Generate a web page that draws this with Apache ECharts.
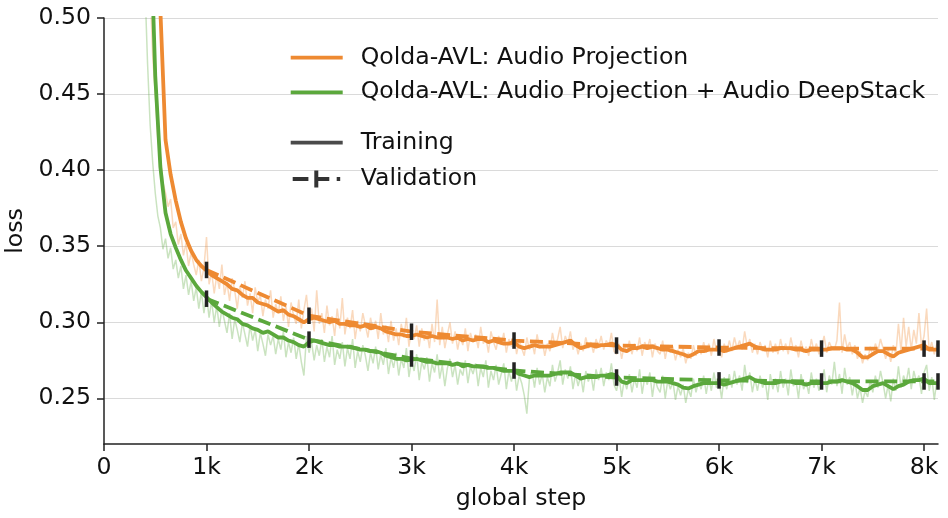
<!DOCTYPE html>
<html>
<head>
<meta charset="utf-8">
<script src="https://cdn.jsdelivr.net/npm/echarts@6/dist/echarts.min.js"></script>
<style>
  html, body { margin: 0; padding: 0; background: #fff; }
  #chart { width: 948px; height: 518px; }
</style>
</head>
<body>
<div id="chart"></div>
<script>
// run names
var nameProj = 'Qolda-AVL: Audio Projection';
var nameDeep = 'Qolda-AVL: Audio Projection + Audio DeepStack';

// x ticks / y ticks
var xTicks = [0, 1000, 2000, 3000, 4000, 5000, 6000, 7000, 8000];
var yTicks = [0.25, 0.30, 0.35, 0.40, 0.45, 0.50];

// raw training loss, logged every 25 steps from 375 to 8125
var rawSteps = [];
for (var s = 375; s <= 8125; s += 25) rawSteps.push(s);

var rawProj = [
  0.78, 0.64, 0.57, 0.52, 0.475, 0.45, 0.42, 0.41, 0.392, 0.385,
  0.376, 0.381, 0.362, 0.366, 0.351, 0.358, 0.344, 0.352, 0.337, 0.346,
  0.338, 0.331, 0.341, 0.327, 0.336, 0.356, 0.325, 0.333, 0.319, 0.331,
  0.322, 0.338, 0.318, 0.326, 0.314, 0.329, 0.321, 0.309, 0.324, 0.316,
  0.327, 0.311, 0.319, 0.306, 0.323, 0.313, 0.318, 0.304, 0.315, 0.309,
  0.321, 0.303, 0.312, 0.306, 0.317, 0.301, 0.311, 0.297, 0.313, 0.304,
  0.299, 0.315, 0.296, 0.308, 0.318, 0.301, 0.309, 0.294, 0.321, 0.299,
  0.306, 0.293, 0.311, 0.298, 0.304, 0.291, 0.309, 0.296, 0.316, 0.292,
  0.303, 0.296, 0.308, 0.289, 0.301, 0.294, 0.306, 0.298, 0.290, 0.303,
  0.295, 0.301, 0.289, 0.306, 0.292, 0.298, 0.287, 0.301, 0.288, 0.296,
  0.285, 0.299, 0.290, 0.303, 0.284, 0.295, 0.289, 0.298, 0.284, 0.296,
  0.288, 0.294, 0.283, 0.299, 0.287, 0.315, 0.285, 0.297, 0.283, 0.292,
  0.300, 0.286, 0.294, 0.282, 0.291, 0.285, 0.296, 0.281, 0.293, 0.287,
  0.292, 0.283, 0.297, 0.286, 0.290, 0.280, 0.294, 0.287, 0.282, 0.291,
  0.285, 0.293, 0.280, 0.289, 0.284, 0.292, 0.279, 0.288, 0.283, 0.278,
  0.290, 0.282, 0.287, 0.279, 0.292, 0.283, 0.288, 0.278, 0.286, 0.281,
  0.293, 0.284, 0.289, 0.297, 0.283, 0.291, 0.286, 0.294, 0.282, 0.287,
  0.279, 0.286, 0.281, 0.290, 0.283, 0.287, 0.280, 0.289, 0.284, 0.291,
  0.282, 0.288, 0.284, 0.293, 0.281, 0.279, 0.286, 0.276, 0.285, 0.280,
  0.288, 0.279, 0.286, 0.281, 0.290, 0.278, 0.287, 0.283, 0.289, 0.277,
  0.286, 0.281, 0.279, 0.288, 0.276, 0.285, 0.280, 0.284, 0.275, 0.282,
  0.277, 0.283, 0.273, 0.280, 0.276, 0.285, 0.278, 0.284, 0.279, 0.287,
  0.280, 0.286, 0.278, 0.289, 0.281, 0.284, 0.277, 0.286, 0.280, 0.288,
  0.281, 0.290, 0.283, 0.288, 0.282, 0.294, 0.284, 0.289, 0.280, 0.286,
  0.279, 0.287, 0.281, 0.285, 0.277, 0.288, 0.280, 0.286, 0.279, 0.289,
  0.281, 0.286, 0.279, 0.290, 0.282, 0.285, 0.277, 0.288, 0.280, 0.284,
  0.278, 0.289, 0.281, 0.286, 0.279, 0.284, 0.291, 0.280, 0.287, 0.283,
  0.282, 0.288, 0.313, 0.280, 0.292, 0.283, 0.287, 0.279, 0.285, 0.276,
  0.281, 0.273, 0.279, 0.275, 0.284, 0.278, 0.286, 0.281, 0.289, 0.283,
  0.276, 0.282, 0.274, 0.285, 0.279, 0.299, 0.281, 0.303, 0.284, 0.297,
  0.282, 0.295, 0.286, 0.306, 0.284, 0.291, 0.309, 0.281, 0.287, 0.279,
  0.286
];

var rawDeep = [
  0.62, 0.52, 0.47, 0.43, 0.405, 0.385, 0.37, 0.362, 0.348, 0.355,
  0.342, 0.349, 0.335, 0.341, 0.329, 0.337, 0.322, 0.331, 0.318, 0.327,
  0.314, 0.323, 0.309, 0.320, 0.306, 0.318, 0.303, 0.314, 0.300, 0.311,
  0.297, 0.309, 0.301, 0.293, 0.306, 0.289, 0.302, 0.295, 0.287, 0.300,
  0.292, 0.284, 0.298, 0.288, 0.295, 0.281, 0.293, 0.286, 0.278, 0.292,
  0.285, 0.291, 0.279, 0.289, 0.282, 0.294, 0.277, 0.287, 0.280, 0.290,
  0.276, 0.286, 0.274, 0.265, 0.291, 0.280, 0.287, 0.275, 0.285, 0.278,
  0.289, 0.274, 0.284, 0.277, 0.291, 0.272, 0.282, 0.276, 0.287, 0.271,
  0.283, 0.276, 0.289, 0.270, 0.281, 0.274, 0.285, 0.278, 0.268, 0.280,
  0.273, 0.284, 0.269, 0.279, 0.272, 0.283, 0.266, 0.277, 0.270, 0.280,
  0.265, 0.276, 0.270, 0.283, 0.264, 0.275, 0.268, 0.279, 0.262, 0.274,
  0.269, 0.277, 0.261, 0.273, 0.267, 0.279, 0.263, 0.272, 0.258, 0.270,
  0.276, 0.264, 0.272, 0.259, 0.269, 0.265, 0.275, 0.260, 0.271, 0.266,
  0.273, 0.258, 0.270, 0.264, 0.275, 0.257, 0.268, 0.262, 0.272, 0.259,
  0.266, 0.273, 0.256, 0.268, 0.261, 0.270, 0.255, 0.265, 0.260, 0.252,
  0.240, 0.263, 0.268, 0.257, 0.270, 0.259, 0.266, 0.254, 0.264, 0.258,
  0.272, 0.261, 0.267, 0.275, 0.259, 0.269, 0.263, 0.271, 0.256, 0.266,
  0.258, 0.265, 0.254, 0.268, 0.261, 0.266, 0.255, 0.269, 0.262, 0.270,
  0.258, 0.267, 0.262, 0.273, 0.259, 0.255, 0.264, 0.251, 0.262, 0.256,
  0.266, 0.254, 0.263, 0.257, 0.269, 0.253, 0.264, 0.259, 0.267, 0.251,
  0.263, 0.257, 0.254, 0.265, 0.250, 0.262, 0.256, 0.261, 0.249, 0.258,
  0.252, 0.259, 0.247, 0.256, 0.251, 0.263, 0.254, 0.261, 0.256, 0.265,
  0.253, 0.263, 0.255, 0.267, 0.257, 0.261, 0.250, 0.264, 0.256, 0.266,
  0.257, 0.268, 0.259, 0.265, 0.255, 0.272, 0.260, 0.267, 0.254, 0.263,
  0.255, 0.265, 0.257, 0.262, 0.249, 0.266, 0.256, 0.263, 0.254, 0.268,
  0.257, 0.263, 0.252, 0.269, 0.258, 0.262, 0.250, 0.266, 0.256, 0.261,
  0.253, 0.267, 0.257, 0.263, 0.255, 0.261, 0.269, 0.254, 0.265, 0.259,
  0.274, 0.258, 0.266, 0.253, 0.270, 0.259, 0.264, 0.252, 0.262, 0.250,
  0.257, 0.247, 0.255, 0.251, 0.262, 0.254, 0.265, 0.257, 0.268, 0.260,
  0.250, 0.259, 0.248, 0.263, 0.255, 0.271, 0.257, 0.265, 0.260, 0.270,
  0.256, 0.268, 0.261, 0.265, 0.253, 0.267, 0.272, 0.255, 0.264, 0.249,
  0.262
];

// smoothed training loss, every 50 steps from 450 to 8100, then the last step
var smoothSteps = [];
for (var t = 450; t <= 8100; t += 50) smoothSteps.push(t);
smoothSteps.push(8136);

var smoothProj = [
  0.68, 0.58, 0.505, 0.42, 0.397, 0.380, 0.366, 0.355, 0.347, 0.341,
  0.337, 0.334, 0.331, 0.329, 0.327, 0.325, 0.322, 0.321, 0.318, 0.316,
  0.316, 0.313, 0.312, 0.311, 0.309, 0.307, 0.308, 0.305, 0.304, 0.302,
  0.300, 0.302, 0.303, 0.302, 0.301, 0.300, 0.301, 0.299, 0.299, 0.298,
  0.298, 0.297, 0.298, 0.296, 0.297, 0.296, 0.294, 0.293, 0.292, 0.292,
  0.291, 0.291, 0.292, 0.291, 0.290, 0.291, 0.290, 0.290, 0.290, 0.289,
  0.290, 0.288, 0.289, 0.288, 0.289, 0.289, 0.287, 0.288, 0.287, 0.286,
  0.286, 0.287, 0.284, 0.283, 0.284, 0.285, 0.284, 0.284, 0.284, 0.285,
  0.286, 0.287, 0.288, 0.285, 0.283, 0.284, 0.285, 0.284, 0.285, 0.285,
  0.286, 0.285, 0.282, 0.281, 0.283, 0.283, 0.284, 0.283, 0.284, 0.283,
  0.282, 0.282, 0.281, 0.280, 0.279, 0.2775, 0.279, 0.281, 0.281, 0.282,
  0.282, 0.282, 0.281, 0.282, 0.283, 0.284, 0.285, 0.286, 0.284, 0.283,
  0.282, 0.282, 0.282, 0.283, 0.283, 0.283, 0.282, 0.282, 0.281, 0.282,
  0.282, 0.282, 0.282, 0.283, 0.283, 0.283, 0.282, 0.282, 0.280, 0.277,
  0.277, 0.279, 0.281, 0.281, 0.279, 0.2775, 0.280, 0.281, 0.282, 0.283,
  0.284, 0.285, 0.282, 0.282,
  0.282
];

var smoothDeep = [
  0.57, 0.462, 0.402, 0.372, 0.358, 0.349, 0.341, 0.334, 0.329, 0.324,
  0.320, 0.3165, 0.313, 0.310, 0.307, 0.305, 0.303, 0.302, 0.299, 0.298,
  0.296, 0.295, 0.293, 0.294, 0.292, 0.290, 0.290, 0.288, 0.287, 0.285,
  0.284, 0.287, 0.288, 0.287, 0.286, 0.285, 0.285, 0.284, 0.284, 0.284,
  0.283, 0.282, 0.282, 0.281, 0.281, 0.280, 0.278, 0.277, 0.276, 0.276,
  0.275, 0.2755, 0.276, 0.275, 0.274, 0.274, 0.273, 0.273, 0.273, 0.272,
  0.273, 0.271, 0.272, 0.271, 0.271, 0.271, 0.270, 0.270, 0.269, 0.268,
  0.268, 0.268, 0.266, 0.265, 0.264, 0.265, 0.265, 0.265, 0.265, 0.266,
  0.267, 0.267, 0.267, 0.265, 0.263, 0.264, 0.264, 0.264, 0.265, 0.265,
  0.266, 0.265, 0.261, 0.260, 0.262, 0.262, 0.262, 0.262, 0.262, 0.261,
  0.261, 0.261, 0.260, 0.259, 0.257, 0.2565, 0.258, 0.259, 0.260, 0.260,
  0.260, 0.260, 0.259, 0.260, 0.261, 0.262, 0.263, 0.264, 0.262, 0.261,
  0.260, 0.260, 0.260, 0.261, 0.261, 0.261, 0.260, 0.260, 0.259, 0.260,
  0.260, 0.260, 0.260, 0.261, 0.261, 0.262, 0.261, 0.260, 0.258, 0.2555,
  0.2555, 0.258, 0.259, 0.260, 0.258, 0.256, 0.258, 0.259, 0.261, 0.262,
  0.262, 0.263, 0.260, 0.260,
  0.260
];

// validation loss
var valSteps = [1000, 2000, 3000, 4000, 5000, 6000, 7000, 8000, 8136];
var valProj = [0.3344, 0.3043, 0.2938, 0.2880, 0.2847, 0.2834, 0.2827, 0.2827, 0.2827];
var valDeep = [0.3155, 0.2886, 0.2762, 0.2683, 0.2637, 0.2618, 0.2611, 0.2611, 0.2611];

var orange = '#ee8a32';
var green = '#5ba83c';
var dark = '#4a4a4a';
var font = 'DejaVu Sans';
var fs = 23.6;

function pairs(xs, ys) {
    return xs.map(function (x, i) { return [x, ys[i]]; });
}

function rawLine(name, color, ys) {
    return {
        name: name, type: 'line', data: pairs(rawSteps, ys),
        symbol: 'none', silent: true, z: 1,
        lineStyle: { color: color, width: 1.5, opacity: 0.32 }
    };
}
function trainLine(name, color, ys) {
    return {
        name: name, type: 'line', data: pairs(smoothSteps, ys),
        symbol: 'none', silent: true, z: 3,
        itemStyle: { color: color },
        lineStyle: { color: color, width: 3.8 }
    };
}
function valLine(name, color, ys) {
    return {
        name: name, type: 'line', data: pairs(valSteps, ys),
        symbol: 'rect', symbolSize: [3.5, 16.5], showSymbol: true, silent: true, z: 4,
        itemStyle: { color: '#222' },
        lineStyle: { color: color, width: 3.8, type: [13, 5.6], cap: 'butt' }
    };
}

var legendText = { fontFamily: font, fontSize: fs, color: '#111', lineHeight: 26, padding: [0, 0, 0, 13] };

var chart = echarts.init(document.getElementById('chart'));
chart.setOption({
    animation: false,
    backgroundColor: '#fff',
    textStyle: { fontFamily: font },
    grid: { left: 104, right: 10, top: 18, bottom: 74, containLabel: false, outerBoundsMode: 'none' },
    legend: [
        {
            // the two runs
            data: [nameProj, nameDeep],
            orient: 'vertical', left: 290.7, top: 44.7, padding: 0,
            icon: 'rect', itemWidth: 52, itemHeight: 3.8, itemGap: 8.6,
            selectedMode: false,
            itemStyle: { borderWidth: 0 },
            textStyle: legendText
        },
        {
            data: [{ name: 'Training', icon: 'rect', itemStyle: { color: dark } }],
            orient: 'vertical', left: 290.7, top: 129.7, padding: 0,
            itemWidth: 52, itemHeight: 3.8, selectedMode: false,
            itemStyle: { borderWidth: 0 },
            textStyle: legendText
        },
        {
            data: [{
                name: 'Validation',
                icon: 'path://M0,6.6H15.7V10.4H0Z M21.6,0H25.6V17H21.6Z M25.6,6.6H36.6V10.4H25.6Z M44,6.6H47.5V10.4H44Z',
                itemStyle: { color: '#333' }
            }],
            orient: 'vertical', left: 292.7, top: 166, padding: 0,
            itemWidth: 47.5, itemHeight: 17, selectedMode: false,
            itemStyle: { borderWidth: 0 },
            textStyle: { fontFamily: font, fontSize: fs, color: '#111', lineHeight: 26, padding: [0, 0, 0, 15.5] }
        }
    ],
    xAxis: {
        type: 'value', min: 0, max: 8136,
        name: 'global step', nameLocation: 'middle', nameGap: 43,
        nameTextStyle: { fontFamily: font, fontSize: fs, color: '#111' },
        axisLine: { lineStyle: { color: '#222', width: 1.5 } },
        axisTick: { show: true, length: 7, customValues: xTicks, lineStyle: { color: '#222', width: 1.5 } },
        axisLabel: {
            customValues: xTicks, margin: 12,
            fontFamily: font, fontSize: fs, color: '#111',
            formatter: function (v) { return v === 0 ? '0' : (v / 1000) + 'k'; }
        },
        splitLine: { show: false }
    },
    yAxis: {
        type: 'value', min: 0.22, max: 0.5,
        name: 'loss', nameLocation: 'middle', nameGap: 67,
        nameTextStyle: { fontFamily: font, fontSize: fs, color: '#111' },
        axisLine: { show: true, lineStyle: { color: '#222', width: 1.5 } },
        axisTick: { show: true, length: 7, customValues: yTicks, lineStyle: { color: '#222', width: 1.5 } },
        axisLabel: {
            customValues: yTicks, margin: 13,
            fontFamily: font, fontSize: fs, color: '#111',
            formatter: function (v) { return v.toFixed(2); }
        },
        splitLine: { show: true, lineStyle: { color: '#dadada', width: 1.2 } }
    },
    series: [
        rawLine('raw-proj', orange, rawProj),
        rawLine('raw-deep', green, rawDeep),
        trainLine(nameProj, orange, smoothProj),
        trainLine(nameDeep, green, smoothDeep),
        valLine('val-proj', orange, valProj),
        valLine('val-deep', green, valDeep),
        // legend-only entries
        { name: 'Training', type: 'line', data: [], itemStyle: { color: dark }, lineStyle: { color: dark } },
        { name: 'Validation', type: 'line', data: [], itemStyle: { color: dark }, lineStyle: { color: dark } }
    ]
});
</script>
</body>
</html>
